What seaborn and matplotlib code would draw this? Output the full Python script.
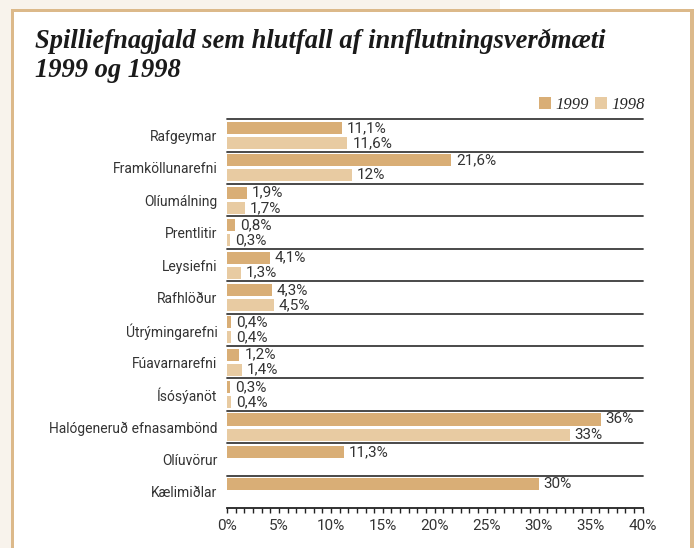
import numpy as np
import pandas as pd
import seaborn as sns
import matplotlib
matplotlib.use("Agg")
import matplotlib.pyplot as plt
from matplotlib.patches import Rectangle, Patch

# ---- data ----
categories = ["Rafgeymar", "Framköllunarefni", "Olíumálning", "Prentlitir", "Leysiefni",
              "Rafhlöður", "Útrýmingarefni", "Fúavarnarefni", "Ísósýanöt",
              "Halógeneruð efnasambönd", "Olíuvörur", "Kælimiðlar"]
values_1999 = [11.1, 21.6, 1.9, 0.8, 4.1, 4.3, 0.4, 1.2, 0.3, 36, 11.3, 30]
values_1998 = [11.6, 12, 1.7, 0.3, 1.3, 4.5, 0.4, 1.4, 0.4, 33, np.nan, np.nan]
years = ["1999", "1998"]
xticks = [0, 5, 10, 15, 20, 25, 30, 35, 40]
title_lines = ["Spilliefnagjald sem hlutfall af innflutningsverðmæti", "1999 og 1998"]

C1999 = "#d9ae76"
C1998 = "#e8cba2"
BORDER = "#dcb98a"
BG = "#f8f3ec"
TXT = "#333333"

def fmt(v):
    return f"{v:g}".replace(".", ",") + "%"

df = pd.DataFrame({
    "cat": categories * 2,
    "value": values_1999 + values_1998,
    "year": ["1999"] * len(categories) + ["1998"] * len(categories),
}).dropna()

sns.set_style("white")
plt.rcParams["font.family"] = ["Roboto", "DejaVu Sans"]

W, H = 699, 548
fig = plt.figure(figsize=(W / 100, H / 100), dpi=100, facecolor="white")

def rect(x0, y0, x1, y1, color):
    fig.add_artist(Rectangle((x0 / W, 1 - y1 / H), (x1 - x0) / W, (y1 - y0) / H,
                             transform=fig.transFigure, facecolor=color,
                             edgecolor="none", zorder=0))

rect(0, 0, 11, H, BG)
rect(0, 0, 500, 9, BG)
rect(11, 9, 694, 12, BORDER)
rect(11, 9, 14, H, BORDER)
rect(690, 9, 694, H, BORDER)

ax_l, ax_r = 227 / W, 642.5 / W
ax_t, ax_b = 1 - 119.3 / H, 1 - 508 / H
ax = fig.add_axes([ax_l, ax_b, ax_r - ax_l, ax_t - ax_b])
ax.set_facecolor("none")

sns.barplot(data=df, y="cat", x="value", hue="year", order=categories,
            hue_order=years, palette=[C1999, C1998], orient="h", saturation=1,
            width=0.93, gap=0.2, errorbar=None, legend=False, ax=ax,
            linewidth=0)

ax.set_xlim(0, 40)
ax.set_ylim(len(categories) - 0.5, -0.5)

for i in range(len(categories)):
    ax.axhline(i - 0.5, color="#3a3a3a", lw=1.3, zorder=3, clip_on=False)

label_sets = {"1999": values_1999, "1998": values_1998}
for j, cont in enumerate(ax.containers):
    vals = label_sets[years[j]]
    labs = []
    for bar in cont:
        idx = int(round(bar.get_y() + bar.get_height() / 2))
        v = vals[idx]
        labs.append("" if np.isnan(v) else fmt(v))
    ax.bar_label(cont, labels=labs, padding=3.5, fontsize=11, color=TXT)

for s in ["top", "right", "left"]:
    ax.spines[s].set_visible(False)
ax.spines["bottom"].set_color("#222222")
ax.spines["bottom"].set_linewidth(1.3)

ax.set_xticks(xticks)
ax.set_xticklabels([f"{t}%" for t in xticks])
ax.set_xticks(np.linspace(0, 40, 49), minor=True)
ax.tick_params(axis="x", which="both", direction="out", length=3.5, width=1,
               color="#222222", bottom=True)
ax.tick_params(axis="x", which="major", labelsize=11, labelcolor=TXT, pad=4.5)
ax.tick_params(axis="y", length=0, labelsize=10, labelcolor=TXT, pad=7)
ax.set_xlabel("")
ax.set_ylabel("")

tfont = dict(family=["Liberation Serif", "DejaVu Serif"], style="italic",
             weight="bold", fontsize=19.1, color="#1a1a1a")
fig.text(35 / W, 1 - 48 / H, title_lines[0], ha="left", va="baseline", **tfont)
fig.text(35 / W, 1 - 77 / H, title_lines[1], ha="left", va="baseline", **tfont)

handles = [Patch(facecolor=C1999, edgecolor="none"), Patch(facecolor=C1998, edgecolor="none")]
fig.legend(handles, years, loc="center right", bbox_to_anchor=(645 / W, 1 - 105 / H),
           ncol=2, frameon=False, borderpad=0, borderaxespad=0,
           handlelength=0.75, handleheight=0.75, handletextpad=0.25, columnspacing=0.35,
           prop=dict(family=["Liberation Serif", "DejaVu Serif"], style="italic", size=12))

fig.savefig("out.png", dpi=100, facecolor="white")
